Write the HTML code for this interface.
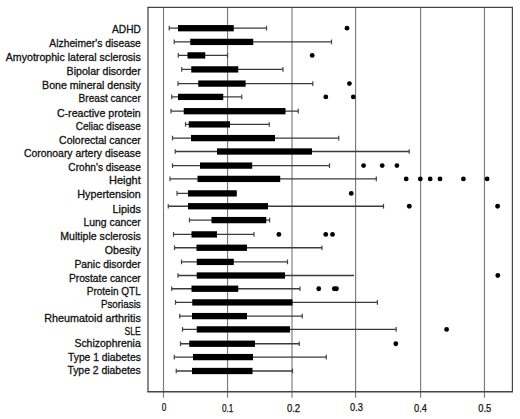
<!DOCTYPE html>
<html><head><meta charset="utf-8"><style>
html,body{margin:0;padding:0;background:#fff;}
body{width:520px;height:419px;overflow:hidden;}
svg{display:block;}
.lb{font-family:"Liberation Sans",sans-serif;font-size:10.8px;fill:#111;stroke:#111;stroke-width:0.3px;}
.tk{font-family:"Liberation Sans",sans-serif;font-size:10.3px;fill:#111;stroke:#111;stroke-width:0.25px;}
</style></head><body>
<svg width="520" height="419" viewBox="0 0 520 419">
<line x1="163.50" y1="7.5" x2="163.50" y2="397.8" stroke="#7a7a7a" stroke-width="1.15"/>
<line x1="227.55" y1="7.5" x2="227.55" y2="397.8" stroke="#7a7a7a" stroke-width="1.15"/>
<line x1="292.00" y1="7.5" x2="292.00" y2="397.8" stroke="#7a7a7a" stroke-width="1.15"/>
<line x1="355.60" y1="7.5" x2="355.60" y2="397.8" stroke="#7a7a7a" stroke-width="1.15"/>
<line x1="420.60" y1="7.5" x2="420.60" y2="397.8" stroke="#7a7a7a" stroke-width="1.15"/>
<line x1="484.45" y1="7.5" x2="484.45" y2="397.8" stroke="#7a7a7a" stroke-width="1.15"/>
<line x1="148" y1="7.4" x2="148" y2="391.5" stroke="#626262" stroke-width="1.5"/>
<line x1="512.4" y1="7.4" x2="512.4" y2="391.5" stroke="#454545" stroke-width="1.2"/>
<line x1="147.3" y1="7.4" x2="513" y2="7.4" stroke="#454545" stroke-width="1.2"/>
<line x1="147.3" y1="391.7" x2="513" y2="391.7" stroke="#454545" stroke-width="1.4"/>
<line x1="169.25" y1="28.20" x2="266.50" y2="28.20" stroke="#3a3a3a" stroke-width="1.3"/>
<line x1="169.25" y1="25.85" x2="169.25" y2="30.55" stroke="#444" stroke-width="1.2"/>
<line x1="266.50" y1="25.85" x2="266.50" y2="30.55" stroke="#444" stroke-width="1.2"/>
<rect x="178.00" y="25.05" width="55.75" height="6.3" fill="#000"/>
<circle cx="347.00" cy="28.20" r="2.4" fill="#000"/>
<line x1="174.25" y1="41.90" x2="331.50" y2="41.90" stroke="#3a3a3a" stroke-width="1.3"/>
<line x1="174.25" y1="39.55" x2="174.25" y2="44.25" stroke="#444" stroke-width="1.2"/>
<line x1="331.50" y1="39.55" x2="331.50" y2="44.25" stroke="#444" stroke-width="1.2"/>
<rect x="190.25" y="38.75" width="63.00" height="6.3" fill="#000"/>
<line x1="178.25" y1="55.40" x2="227.50" y2="55.40" stroke="#3a3a3a" stroke-width="1.3"/>
<line x1="178.25" y1="53.05" x2="178.25" y2="57.75" stroke="#444" stroke-width="1.2"/>
<line x1="227.50" y1="53.05" x2="227.50" y2="57.75" stroke="#444" stroke-width="1.2"/>
<rect x="187.50" y="52.25" width="17.75" height="6.3" fill="#000"/>
<circle cx="312.20" cy="55.40" r="2.4" fill="#000"/>
<line x1="181.75" y1="69.40" x2="283.00" y2="69.40" stroke="#3a3a3a" stroke-width="1.3"/>
<line x1="181.75" y1="67.05" x2="181.75" y2="71.75" stroke="#444" stroke-width="1.2"/>
<line x1="283.00" y1="67.05" x2="283.00" y2="71.75" stroke="#444" stroke-width="1.2"/>
<rect x="191.25" y="66.25" width="47.00" height="6.3" fill="#000"/>
<line x1="178.00" y1="83.60" x2="312.80" y2="83.60" stroke="#3a3a3a" stroke-width="1.3"/>
<line x1="178.00" y1="81.25" x2="178.00" y2="85.95" stroke="#444" stroke-width="1.2"/>
<line x1="312.80" y1="81.25" x2="312.80" y2="85.95" stroke="#444" stroke-width="1.2"/>
<rect x="198.25" y="80.45" width="47.35" height="6.3" fill="#000"/>
<circle cx="349.40" cy="83.60" r="2.4" fill="#000"/>
<line x1="171.75" y1="96.90" x2="241.75" y2="96.90" stroke="#3a3a3a" stroke-width="1.3"/>
<line x1="171.75" y1="94.55" x2="171.75" y2="99.25" stroke="#444" stroke-width="1.2"/>
<line x1="241.75" y1="94.55" x2="241.75" y2="99.25" stroke="#444" stroke-width="1.2"/>
<rect x="178.00" y="93.75" width="45.25" height="6.3" fill="#000"/>
<circle cx="325.80" cy="96.90" r="2.4" fill="#000"/>
<circle cx="353.30" cy="96.90" r="2.4" fill="#000"/>
<line x1="171.00" y1="111.20" x2="298.25" y2="111.20" stroke="#3a3a3a" stroke-width="1.3"/>
<line x1="171.00" y1="108.85" x2="171.00" y2="113.55" stroke="#444" stroke-width="1.2"/>
<line x1="298.25" y1="108.85" x2="298.25" y2="113.55" stroke="#444" stroke-width="1.2"/>
<rect x="183.75" y="108.05" width="101.75" height="6.3" fill="#000"/>
<line x1="185.50" y1="124.40" x2="269.25" y2="124.40" stroke="#3a3a3a" stroke-width="1.3"/>
<line x1="185.50" y1="122.05" x2="185.50" y2="126.75" stroke="#444" stroke-width="1.2"/>
<line x1="269.25" y1="122.05" x2="269.25" y2="126.75" stroke="#444" stroke-width="1.2"/>
<rect x="188.75" y="121.25" width="41.25" height="6.3" fill="#000"/>
<line x1="172.50" y1="138.10" x2="338.75" y2="138.10" stroke="#3a3a3a" stroke-width="1.3"/>
<line x1="172.50" y1="135.75" x2="172.50" y2="140.45" stroke="#444" stroke-width="1.2"/>
<line x1="338.75" y1="135.75" x2="338.75" y2="140.45" stroke="#444" stroke-width="1.2"/>
<rect x="191.00" y="134.95" width="84.00" height="6.3" fill="#000"/>
<line x1="175.25" y1="151.50" x2="409.20" y2="151.50" stroke="#3a3a3a" stroke-width="1.3"/>
<line x1="175.25" y1="149.15" x2="175.25" y2="153.85" stroke="#444" stroke-width="1.2"/>
<line x1="409.20" y1="149.15" x2="409.20" y2="153.85" stroke="#444" stroke-width="1.2"/>
<rect x="217.00" y="148.35" width="95.00" height="6.3" fill="#000"/>
<line x1="172.50" y1="165.60" x2="329.50" y2="165.60" stroke="#3a3a3a" stroke-width="1.3"/>
<line x1="172.50" y1="163.25" x2="172.50" y2="167.95" stroke="#444" stroke-width="1.2"/>
<line x1="329.50" y1="163.25" x2="329.50" y2="167.95" stroke="#444" stroke-width="1.2"/>
<rect x="200.00" y="162.45" width="52.20" height="6.3" fill="#000"/>
<circle cx="363.60" cy="165.60" r="2.4" fill="#000"/>
<circle cx="382.20" cy="165.60" r="2.4" fill="#000"/>
<circle cx="396.90" cy="165.60" r="2.4" fill="#000"/>
<line x1="170.00" y1="178.90" x2="376.30" y2="178.90" stroke="#3a3a3a" stroke-width="1.3"/>
<line x1="170.00" y1="176.55" x2="170.00" y2="181.25" stroke="#444" stroke-width="1.2"/>
<line x1="376.30" y1="176.55" x2="376.30" y2="181.25" stroke="#444" stroke-width="1.2"/>
<rect x="197.50" y="175.75" width="82.70" height="6.3" fill="#000"/>
<circle cx="406.20" cy="178.90" r="2.4" fill="#000"/>
<circle cx="420.30" cy="178.90" r="2.4" fill="#000"/>
<circle cx="430.20" cy="178.90" r="2.4" fill="#000"/>
<circle cx="440.00" cy="178.90" r="2.4" fill="#000"/>
<circle cx="463.40" cy="178.90" r="2.4" fill="#000"/>
<circle cx="487.10" cy="178.90" r="2.4" fill="#000"/>
<line x1="177.00" y1="193.40" x2="236.75" y2="193.40" stroke="#3a3a3a" stroke-width="1.3"/>
<line x1="177.00" y1="191.05" x2="177.00" y2="195.75" stroke="#444" stroke-width="1.2"/>
<rect x="188.00" y="190.25" width="48.75" height="6.3" fill="#000"/>
<circle cx="351.25" cy="193.40" r="2.4" fill="#000"/>
<line x1="168.25" y1="206.25" x2="383.50" y2="206.25" stroke="#3a3a3a" stroke-width="1.3"/>
<line x1="168.25" y1="203.90" x2="168.25" y2="208.60" stroke="#444" stroke-width="1.2"/>
<line x1="383.50" y1="203.90" x2="383.50" y2="208.60" stroke="#444" stroke-width="1.2"/>
<rect x="188.00" y="203.10" width="80.00" height="6.3" fill="#000"/>
<circle cx="409.30" cy="206.25" r="2.4" fill="#000"/>
<circle cx="497.60" cy="206.25" r="2.4" fill="#000"/>
<line x1="189.50" y1="220.10" x2="269.60" y2="220.10" stroke="#3a3a3a" stroke-width="1.3"/>
<line x1="189.50" y1="217.75" x2="189.50" y2="222.45" stroke="#444" stroke-width="1.2"/>
<line x1="269.60" y1="217.75" x2="269.60" y2="222.45" stroke="#444" stroke-width="1.2"/>
<rect x="211.50" y="216.95" width="54.75" height="6.3" fill="#000"/>
<line x1="173.50" y1="234.40" x2="254.00" y2="234.40" stroke="#3a3a3a" stroke-width="1.3"/>
<line x1="173.50" y1="232.05" x2="173.50" y2="236.75" stroke="#444" stroke-width="1.2"/>
<line x1="254.00" y1="232.05" x2="254.00" y2="236.75" stroke="#444" stroke-width="1.2"/>
<rect x="191.50" y="231.25" width="25.50" height="6.3" fill="#000"/>
<circle cx="278.90" cy="234.40" r="2.4" fill="#000"/>
<circle cx="325.75" cy="234.40" r="2.4" fill="#000"/>
<circle cx="332.50" cy="234.40" r="2.4" fill="#000"/>
<line x1="174.50" y1="247.75" x2="322.00" y2="247.75" stroke="#3a3a3a" stroke-width="1.3"/>
<line x1="174.50" y1="245.40" x2="174.50" y2="250.10" stroke="#444" stroke-width="1.2"/>
<line x1="322.00" y1="245.40" x2="322.00" y2="250.10" stroke="#444" stroke-width="1.2"/>
<rect x="196.50" y="244.60" width="50.50" height="6.3" fill="#000"/>
<line x1="181.50" y1="261.90" x2="287.50" y2="261.90" stroke="#3a3a3a" stroke-width="1.3"/>
<line x1="181.50" y1="259.55" x2="181.50" y2="264.25" stroke="#444" stroke-width="1.2"/>
<line x1="287.50" y1="259.55" x2="287.50" y2="264.25" stroke="#444" stroke-width="1.2"/>
<rect x="196.75" y="258.75" width="37.00" height="6.3" fill="#000"/>
<line x1="178.00" y1="275.50" x2="354.00" y2="275.50" stroke="#3a3a3a" stroke-width="1.3"/>
<line x1="178.00" y1="273.15" x2="178.00" y2="277.85" stroke="#444" stroke-width="1.2"/>
<rect x="196.75" y="272.35" width="88.25" height="6.3" fill="#000"/>
<circle cx="497.80" cy="275.50" r="2.4" fill="#000"/>
<line x1="171.75" y1="288.75" x2="300.00" y2="288.75" stroke="#3a3a3a" stroke-width="1.3"/>
<line x1="171.75" y1="286.40" x2="171.75" y2="291.10" stroke="#444" stroke-width="1.2"/>
<line x1="300.00" y1="286.40" x2="300.00" y2="291.10" stroke="#444" stroke-width="1.2"/>
<rect x="191.50" y="285.60" width="46.75" height="6.3" fill="#000"/>
<circle cx="318.75" cy="288.75" r="2.4" fill="#000"/>
<circle cx="334.30" cy="288.75" r="2.4" fill="#000"/>
<circle cx="336.50" cy="288.75" r="2.4" fill="#000"/>
<line x1="175.50" y1="302.40" x2="377.40" y2="302.40" stroke="#3a3a3a" stroke-width="1.3"/>
<line x1="175.50" y1="300.05" x2="175.50" y2="304.75" stroke="#444" stroke-width="1.2"/>
<line x1="377.40" y1="300.05" x2="377.40" y2="304.75" stroke="#444" stroke-width="1.2"/>
<rect x="192.25" y="299.25" width="100.25" height="6.3" fill="#000"/>
<line x1="179.75" y1="316.10" x2="302.25" y2="316.10" stroke="#3a3a3a" stroke-width="1.3"/>
<line x1="179.75" y1="313.75" x2="179.75" y2="318.45" stroke="#444" stroke-width="1.2"/>
<line x1="302.25" y1="313.75" x2="302.25" y2="318.45" stroke="#444" stroke-width="1.2"/>
<rect x="192.00" y="312.95" width="55.00" height="6.3" fill="#000"/>
<line x1="182.50" y1="329.40" x2="396.20" y2="329.40" stroke="#3a3a3a" stroke-width="1.3"/>
<line x1="182.50" y1="327.05" x2="182.50" y2="331.75" stroke="#444" stroke-width="1.2"/>
<line x1="396.20" y1="327.05" x2="396.20" y2="331.75" stroke="#444" stroke-width="1.2"/>
<rect x="196.75" y="326.25" width="93.25" height="6.3" fill="#000"/>
<circle cx="446.60" cy="329.40" r="2.4" fill="#000"/>
<line x1="180.50" y1="343.75" x2="299.25" y2="343.75" stroke="#3a3a3a" stroke-width="1.3"/>
<line x1="180.50" y1="341.40" x2="180.50" y2="346.10" stroke="#444" stroke-width="1.2"/>
<line x1="299.25" y1="341.40" x2="299.25" y2="346.10" stroke="#444" stroke-width="1.2"/>
<rect x="189.25" y="340.60" width="65.75" height="6.3" fill="#000"/>
<circle cx="395.80" cy="343.75" r="2.4" fill="#000"/>
<line x1="174.25" y1="357.10" x2="326.25" y2="357.10" stroke="#3a3a3a" stroke-width="1.3"/>
<line x1="174.25" y1="354.75" x2="174.25" y2="359.45" stroke="#444" stroke-width="1.2"/>
<line x1="326.25" y1="354.75" x2="326.25" y2="359.45" stroke="#444" stroke-width="1.2"/>
<rect x="193.00" y="353.95" width="60.00" height="6.3" fill="#000"/>
<line x1="176.25" y1="371.00" x2="292.50" y2="371.00" stroke="#3a3a3a" stroke-width="1.3"/>
<line x1="176.25" y1="368.65" x2="176.25" y2="373.35" stroke="#444" stroke-width="1.2"/>
<line x1="292.50" y1="368.65" x2="292.50" y2="373.35" stroke="#444" stroke-width="1.2"/>
<rect x="192.00" y="367.85" width="60.50" height="6.3" fill="#000"/>
<text x="140.8" y="33.40" text-anchor="end" class="lb" textLength="28.70" lengthAdjust="spacingAndGlyphs">ADHD</text>
<text x="140.8" y="47.30" text-anchor="end" class="lb" textLength="91.50" lengthAdjust="spacingAndGlyphs">Alzheimer&#39;s disease</text>
<text x="140.8" y="61.30" text-anchor="end" class="lb" textLength="135.00" lengthAdjust="spacingAndGlyphs">Amyotrophic lateral sclerosis</text>
<text x="140.8" y="74.90" text-anchor="end" class="lb" textLength="74.20" lengthAdjust="spacingAndGlyphs">Bipolar disorder</text>
<text x="140.8" y="88.90" text-anchor="end" class="lb" textLength="98.70" lengthAdjust="spacingAndGlyphs">Bone mineral density</text>
<text x="140.8" y="102.40" text-anchor="end" class="lb" textLength="62.20" lengthAdjust="spacingAndGlyphs">Breast cancer</text>
<text x="140.8" y="116.50" text-anchor="end" class="lb" textLength="83.90" lengthAdjust="spacingAndGlyphs">C-reactive protein</text>
<text x="140.8" y="130.00" text-anchor="end" class="lb" textLength="65.00" lengthAdjust="spacingAndGlyphs">Celiac disease</text>
<text x="140.8" y="143.90" text-anchor="end" class="lb" textLength="81.70" lengthAdjust="spacingAndGlyphs">Colorectal cancer</text>
<text x="140.8" y="157.10" text-anchor="end" class="lb" textLength="116.80" lengthAdjust="spacingAndGlyphs">Coronoary artery disease</text>
<text x="140.8" y="171.00" text-anchor="end" class="lb" textLength="72.50" lengthAdjust="spacingAndGlyphs">Crohn&#39;s disease</text>
<text x="140.8" y="183.90" text-anchor="end" class="lb" textLength="31.80" lengthAdjust="spacingAndGlyphs">Height</text>
<text x="140.8" y="198.30" text-anchor="end" class="lb" textLength="63.60" lengthAdjust="spacingAndGlyphs">Hypertension</text>
<text x="140.8" y="212.50" text-anchor="end" class="lb" textLength="28.20" lengthAdjust="spacingAndGlyphs">Lipids</text>
<text x="140.8" y="226.00" text-anchor="end" class="lb" textLength="57.40" lengthAdjust="spacingAndGlyphs">Lung cancer</text>
<text x="140.8" y="240.00" text-anchor="end" class="lb" textLength="80.60" lengthAdjust="spacingAndGlyphs">Multiple sclerosis</text>
<text x="140.8" y="253.90" text-anchor="end" class="lb" textLength="36.00" lengthAdjust="spacingAndGlyphs">Obesity</text>
<text x="140.8" y="267.60" text-anchor="end" class="lb" textLength="66.40" lengthAdjust="spacingAndGlyphs">Panic disorder</text>
<text x="140.8" y="281.60" text-anchor="end" class="lb" textLength="71.90" lengthAdjust="spacingAndGlyphs">Prostate cancer</text>
<text x="140.8" y="294.90" text-anchor="end" class="lb" textLength="54.10" lengthAdjust="spacingAndGlyphs">Protein QTL</text>
<text x="140.8" y="307.60" text-anchor="end" class="lb" textLength="39.90" lengthAdjust="spacingAndGlyphs">Psoriasis</text>
<text x="140.8" y="321.60" text-anchor="end" class="lb" textLength="96.50" lengthAdjust="spacingAndGlyphs">Rheumatoid arthritis</text>
<text x="140.8" y="335.00" text-anchor="end" class="lb" textLength="16.20" lengthAdjust="spacingAndGlyphs">SLE</text>
<text x="140.8" y="346.50" text-anchor="end" class="lb" textLength="66.40" lengthAdjust="spacingAndGlyphs">Schizophrenia</text>
<text x="140.8" y="360.70" text-anchor="end" class="lb" textLength="72.80" lengthAdjust="spacingAndGlyphs">Type 1 diabetes</text>
<text x="140.8" y="374.00" text-anchor="end" class="lb" textLength="73.40" lengthAdjust="spacingAndGlyphs">Type 2 diabetes</text>
<text x="161.80" y="411.30" class="tk" textLength="4.60" lengthAdjust="spacingAndGlyphs">0</text>
<text x="222.00" y="411.90" class="tk" textLength="11.40" lengthAdjust="spacingAndGlyphs">0.1</text>
<text x="286.90" y="411.70" class="tk" textLength="13.30" lengthAdjust="spacingAndGlyphs">0.2</text>
<text x="350.10" y="411.10" class="tk" textLength="12.90" lengthAdjust="spacingAndGlyphs">0.3</text>
<text x="414.10" y="412.30" class="tk" textLength="12.90" lengthAdjust="spacingAndGlyphs">0.4</text>
<text x="478.30" y="411.90" class="tk" textLength="12.90" lengthAdjust="spacingAndGlyphs">0.5</text>
</svg>
</body></html>
